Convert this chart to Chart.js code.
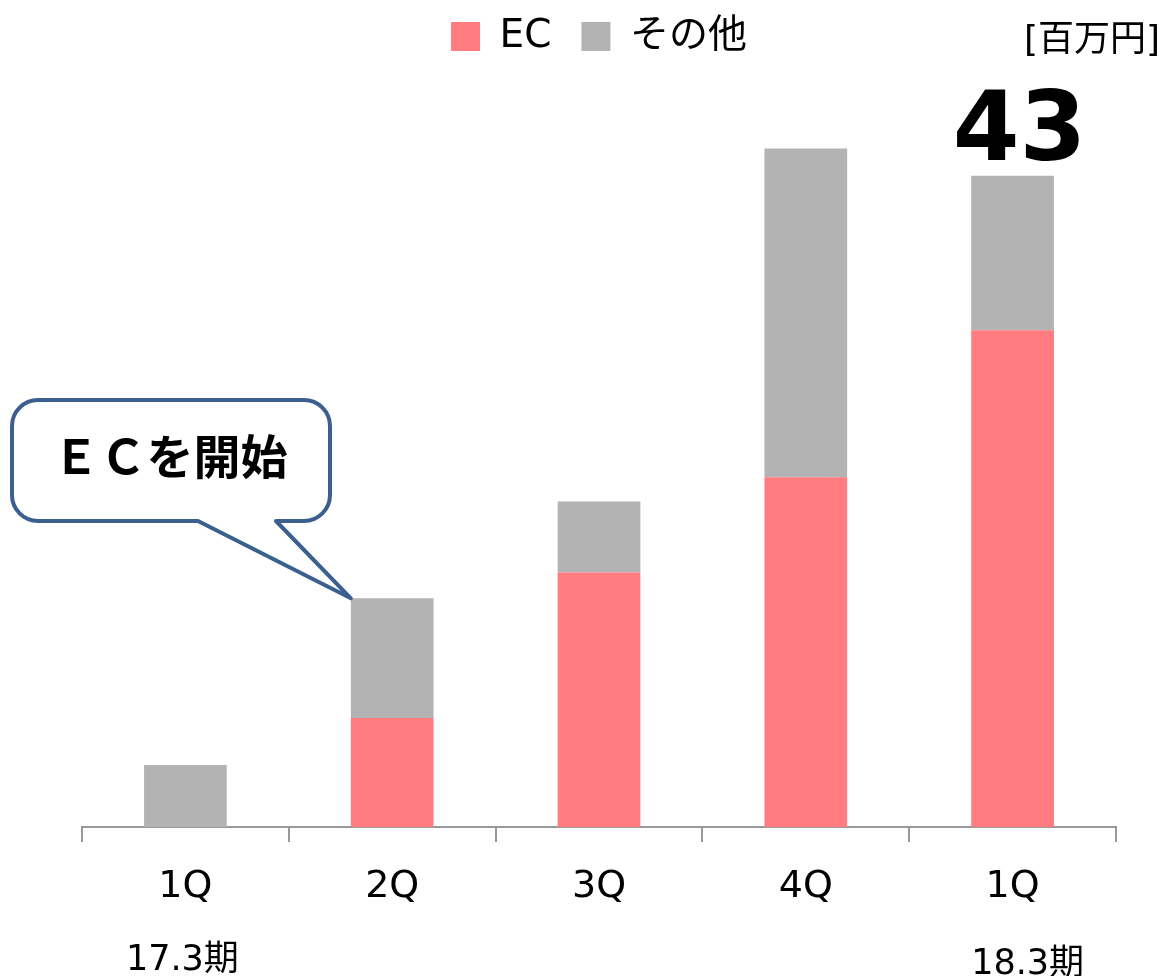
<!DOCTYPE html>
<html>
<head>
<meta charset="utf-8">
<script src="https://cdn.jsdelivr.net/npm/chart.js@4"></script>
<style>
html,body{margin:0;padding:0;background:#fff;}
#wrap{width:1163px;height:976px;position:relative;}
</style>
</head>
<body>
<div id="wrap"><canvas id="c" width="1163" height="976"></canvas></div>
<script>
const categories = ['1Q', '2Q', '3Q', '4Q', '1Q'];
const periodLabels = ['17.3期', '', '', '', '18.3期'];
const ecValues = [0, 7.2, 16.8, 23.1, 32.8];
const otherValues = [4.1, 7.9, 4.7, 21.7, 10.2];
const seriesNames = ['EC', 'その他'];
const unitLabel = '[百万円]';
const calloutText = 'ＥＣを開始';
const calloutIndex = 1;

const FONT = "'DejaVu Sans', 'Noto Sans CJK JP', sans-serif";
const JP = "'Noto Sans CJK JP', 'DejaVu Sans', sans-serif";

const overlay = {
  id: 'overlay',
  afterDraw(chart) {
    const ctx = chart.ctx;
    const xs = chart.scales.x;
    ctx.save();
    // period labels
    ctx.fillStyle = '#000';
    ctx.font = '35px ' + FONT;
    ctx.textAlign = 'center';
    ctx.textBaseline = 'alphabetic';
    periodLabels.forEach((t, i) => {
      if (!t) return;
      const x = xs.getPixelForValue(i) + (i === 0 ? -3 : 15);
      ctx.fillText(t, x, i === 0 ? 970 : 974);
    });
    // unit label
    ctx.font = '36px ' + FONT;
    ctx.textAlign = 'right';
    ctx.fillText(unitLabel, 1160, 51);
    // total for last bar
    const last = categories.length - 1;
    const total = ecValues[last] + otherValues[last];
    const meta = chart.getDatasetMeta(1);
    const bar = meta.data[last];
    ctx.font = 'bold 96px ' + FONT;
    ctx.textAlign = 'center';
    ctx.fillText(String(Math.round(total)), bar.x + 7, bar.y - 16);
    // callout
    const b2 = meta.data[calloutIndex];
    const tipX = b2.x - b2.width / 2, tipY = b2.y;
    const L = 12, T = 400, R = 330, B = 521, r = 26;
    ctx.beginPath();
    ctx.moveTo(L + r, T);
    ctx.lineTo(R - r, T);
    ctx.arcTo(R, T, R, T + r, r);
    ctx.lineTo(R, B - r);
    ctx.arcTo(R, B, R - r, B, r);
    ctx.lineTo(276, B);
    ctx.lineTo(tipX, tipY);
    ctx.lineTo(198, B);
    ctx.lineTo(L + r, B);
    ctx.arcTo(L, B, L, B - r, r);
    ctx.lineTo(L, T + r);
    ctx.arcTo(L, T, L + r, T, r);
    ctx.closePath();
    ctx.fillStyle = '#fff';
    ctx.fill();
    ctx.lineWidth = 4;
    ctx.lineJoin = 'round';
    ctx.strokeStyle = '#3B5F8E';
    ctx.stroke();
    ctx.fillStyle = '#000';
    ctx.font = 'bold 47px ' + JP;
    ctx.textAlign = 'center';
    ctx.textBaseline = 'middle';
    ctx.fillText(calloutText, 170, 456);
    ctx.restore();
  }
};

new Chart(document.getElementById('c'), {
  type: 'bar',
  data: {
    labels: categories,
    datasets: [
      { label: seriesNames[0], data: ecValues, backgroundColor: '#FF7C80', borderWidth: 0 },
      { label: seriesNames[1], data: otherValues, backgroundColor: '#B3B3B3', borderWidth: 0 }
    ]
  },
  options: {
    responsive: false,
    animation: false,
    layout: { padding: { left: 82, right: 47, top: -13, bottom: 0 } },
    datasets: { bar: { categoryPercentage: 1, barPercentage: 0.4 } },
    plugins: {
      legend: {
        display: true,
        position: 'top',
        align: 'center',
        labels: {
          boxWidth: 29, boxHeight: 29, padding: 30,
          color: '#000',
          font: { size: 39, family: FONT }
        }
      },
      tooltip: { enabled: false }
    },
    scales: {
      x: {
        stacked: true,
        offset: true,
        grid: { display: true, drawOnChartArea: false, offset: true, tickLength: 15, color: '#999', lineWidth: 2 },
        border: { display: true, color: '#999', width: 2 },
        ticks: { color: '#000', font: { size: 38, family: FONT }, padding: 22, maxRotation: 0 },
        afterFit(scale) { scale.height = 149; }
      },
      y: {
        stacked: true,
        display: false,
        min: 0,
        max: 50.25
      }
    }
  },
  plugins: [overlay]
});
</script>
</body>
</html>
